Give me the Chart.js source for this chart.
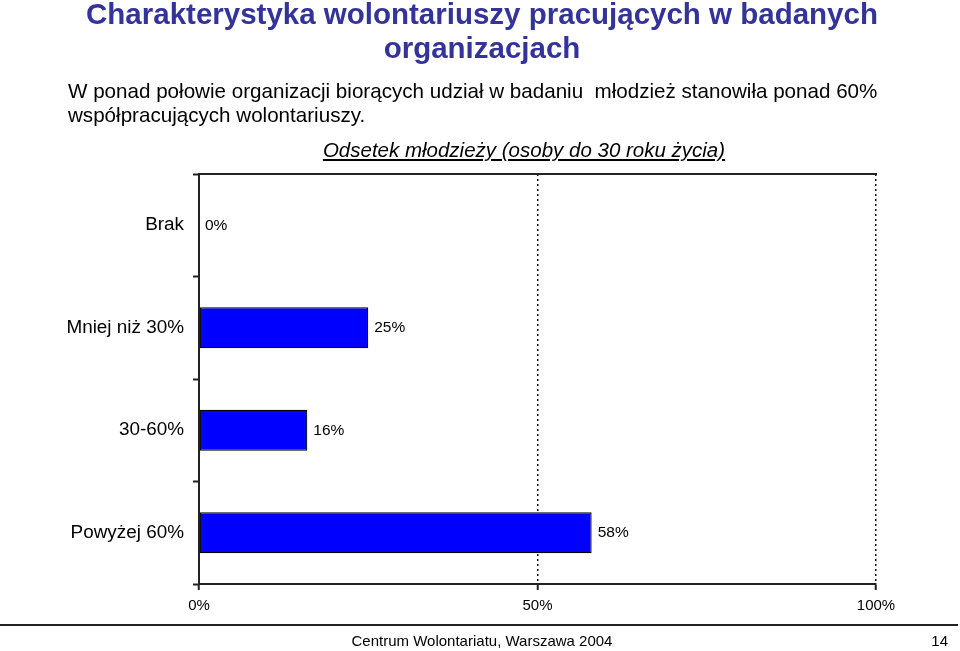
<!DOCTYPE html>
<html><head><meta charset="utf-8">
<script src="https://cdn.jsdelivr.net/npm/chart.js@4/dist/chart.umd.min.js"></script>
<style>
html,body{margin:0;padding:0;background:#fff}
body{width:960px;height:651px;overflow:hidden;position:relative;font-family:"Liberation Sans",Arial,sans-serif;color:#000}
canvas{position:absolute;left:0;top:0}
.abs{position:absolute;white-space:nowrap}
#title{left:4px;width:956px;top:-3px;text-align:center;font-weight:bold;font-size:29.5px;line-height:34px;color:#333399}
#sub{left:68px;top:79px;font-size:20.6px;line-height:24px}
#ctitle{left:0;width:1048px;top:139px;text-align:center;font-size:20.5px;font-style:italic;text-decoration:underline;line-height:22px}
#fline{left:0;top:624px;width:958px;height:2px;background:#222}
#foot{left:0;width:964px;top:632px;text-align:center;font-size:15px;line-height:18px}
#page{right:12px;top:632px;font-size:15px;line-height:18px}
</style></head>
<body>
<canvas id="c" width="960" height="651"></canvas>
<div class="abs" id="title">Charakterystyka wolontariuszy pracujących w badanych<br>organizacjach</div>
<div class="abs" id="sub">W ponad połowie organizacji biorących udział w badaniu&nbsp; młodzież stanowiła ponad 60%<br>współpracujących wolontariuszy.</div>
<div class="abs" id="ctitle">Odsetek młodzieży (osoby do 30 roku życia)</div>
<div class="abs" id="fline"></div>
<div class="abs" id="foot">Centrum Wolontariatu, Warszawa 2004</div>
<div class="abs" id="page">14</div>
<script>
const categories = ["Brak", "Mniej niż 30%", "30-60%", "Powyżej 60%"];
const values = [0, 25, 16, 58];
const xTicks = [0, 50, 100];

Chart.defaults.font.family = '"Liberation Sans", Arial, sans-serif';
Chart.defaults.color = '#000';

const valueLabels = {
  id: 'valueLabels',
  afterDatasetsDraw(chart) {
    const ctx = chart.ctx;
    const meta = chart.getDatasetMeta(0);
    ctx.save();
    ctx.font = '15.5px "Liberation Sans", Arial, sans-serif';
    ctx.fillStyle = '#000';
    ctx.textAlign = 'left';
    ctx.textBaseline = 'middle';
    meta.data.forEach((bar, i) => {
      ctx.fillText(values[i] + '%', bar.x + 6, bar.y);
    });
    ctx.restore();
  }
};

new Chart(document.getElementById('c'), {
  type: 'bar',
  data: {
    labels: categories,
    datasets: [{
      data: values,
      backgroundColor: '#0000FF',
      borderColor: '#000',
      borderWidth: 1.2,
      borderSkipped: false,
      barPercentage: 0.4,
      categoryPercentage: 1
    }]
  },
  options: {
    indexAxis: 'y',
    responsive: false,
    animation: false,
    layout: { padding: { left: 0, top: 174, right: 84, bottom: 27 } },
    plugins: { legend: { display: false }, tooltip: { enabled: false } },
    scales: {
      x: {
        min: 0, max: 100,
        afterBuildTicks(s) { s.ticks = xTicks.map(v => ({ value: v })); },
        afterFit(s) { s.height = 40; },
        ticks: { callback: v => v + '%', font: { size: 15 }, padding: 7, maxRotation: 0 },
        grid: {
          color: c => (c.tick && c.tick.value === 0) ? 'rgba(0,0,0,0)' : '#111',
          lineWidth: 1.5,
          tickColor: '#222',
          tickLength: 6,
          tickWidth: 2
        },
        border: { display: true, color: '#222', width: 2, dash: [2, 3] }
      },
      xTop: {
        position: 'top',
        min: 0, max: 100,
        afterFit(s) { s.height = 0; },
        ticks: { display: false },
        grid: { display: false, drawTicks: false },
        border: { display: true, color: '#222', width: 2 }
      },
      y: {
        afterFit(s) { s.width = 199; },
        ticks: { font: { size: 18.9 }, padding: 9 },
        grid: {
          offset: true,
          drawOnChartArea: false,
          drawTicks: true,
          tickLength: 6,
          tickColor: '#222',
          tickWidth: 2
        },
        border: { display: true, color: '#222', width: 2 }
      }
    }
  },
  plugins: [valueLabels]
});
</script>
</body></html>
